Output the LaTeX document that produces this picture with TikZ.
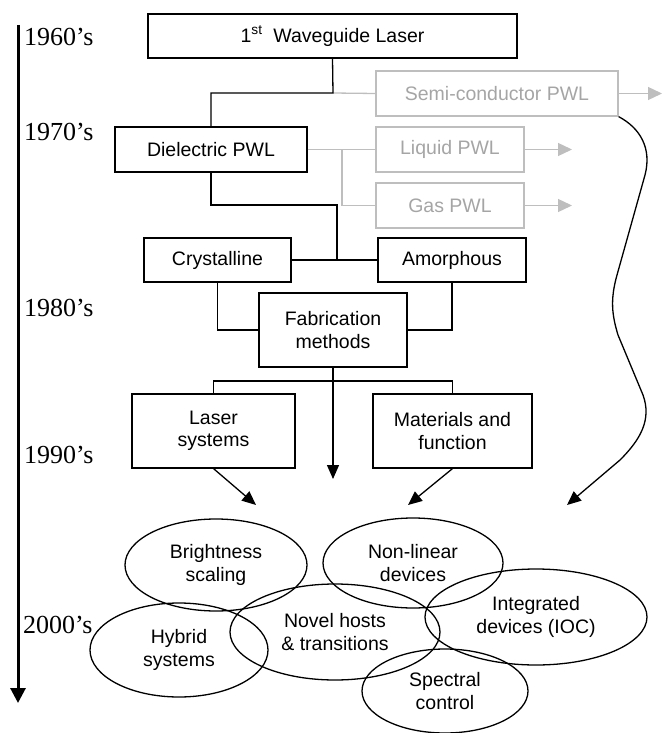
\documentclass[tikz,border=0pt]{standalone}
\usepackage{fontspec}
\setmainfont{Liberation Serif}
\newfontfamily\arialf{Liberation Sans}
\usetikzlibrary{arrows.meta,shapes.geometric}
\definecolor{lightg}{RGB}{190,190,190}
\definecolor{textg}{RGB}{165,165,165}
\begin{document}
\begin{tikzpicture}[x=1pt,y=-1pt,
  box/.style={draw,line width=1.2pt,inner sep=0pt,align=center,font=\arialf\fontsize{19.5}{22.5}\selectfont},
  gbox/.style={box,draw=lightg,text=textg},
  oval/.style={draw,ellipse,line width=1.3pt,inner sep=0pt,align=center,font=\arialf\fontsize{19.5}{22.5}\selectfont},
  conn/.style={line width=1.3pt},
  gconn/.style={line width=1.3pt,draw=lightg},
  garr/.style={gconn,-{Triangle[length=14pt,width=13pt]}},
  barr/.style={conn,-{Triangle[length=14pt,width=12pt]}},
  decade/.style={anchor=west,inner sep=0pt,font=\fontsize{26}{28}\selectfont}
]
\useasboundingbox (0,0) rectangle (663,733);
% timeline
\coordinate (ax1) at (18,25);
\coordinate (ax2) at (18,703);
\draw[line width=3pt,-{Triangle[length=15pt,width=15pt]}] (ax1) -- (ax2);
\node[decade] (d60) at (24,37) {1960’s};
\node[decade] (d70) at (24,132) {1970’s};
\node[decade] (d80) at (24,308) {1980’s};
\node[decade] (d90) at (24,455) {1990’s};
\node[decade] (d00) at (23,625) {2000’s};
% boxes
\node[box,minimum width=369pt,minimum height=44pt] (w1) at (332.5,36) {1\textsuperscript{st}\; Waveguide Laser};
\node[gbox,minimum width=242pt,minimum height=45pt] (semi) at (497,93.5) {Semi-conductor PWL};
\node[box,minimum width=192pt,minimum height=45pt] (diel) at (211,149.5) {Dielectric PWL};
\node[gbox,minimum width=148pt,minimum height=45pt] (liq) at (450,149.5) {Liquid PWL};
\node[gbox,minimum width=148pt,minimum height=45pt] (gas) at (450,205.5) {Gas PWL};
\node[box,minimum width=147pt,minimum height=44pt] (cry) at (217.5,260) {Crystalline};
\node[box,minimum width=148pt,minimum height=44pt] (amo) at (452,260) {Amorphous};
\node[box,minimum width=148pt,minimum height=74pt] (fab) at (333,330) {Fabrication\\methods};
\node[box,minimum width=163pt,minimum height=74pt] (las) at (213.5,431) {Laser\\systems};
\node[box,minimum width=159pt,minimum height=74pt] (mat) at (452.5,431) {Materials and\\function};
% ellipses
\node[oval,minimum width=182pt,minimum height=92pt] (bri) at (216,565) {Brightness\\scaling};
\node[oval,minimum width=180pt,minimum height=90pt] (non) at (413,563) {Non-linear\\devices};
\node[oval,minimum width=222pt,minimum height=96pt] (int) at (536,617) {Integrated\\devices (IOC)};
\node[oval,minimum width=178pt,minimum height=94pt] (hyb) at (179,650) {Hybrid\\systems};
\node[oval,minimum width=210pt,minimum height=96pt] (nov) at (335,632) {Novel hosts\\\& transitions};
\node[oval,minimum width=166pt,minimum height=84pt] (spe) at (445,691) {Spectral\\control};
% connectors top
\coordinate (j1) at (333,93);
\draw[gconn] (j1) -- (semi.west);
\draw[conn] (w1.south) -- (j1) -| (diel.north);
\coordinate (se) at (662,93.5);
\draw[garr] (semi.east) -- (se);
\coordinate (j2) at (342,149.5);
\draw[gconn] (diel.east) -- (liq.west);
\draw[gconn] (j2) |- (gas.west);
\coordinate (le) at (572,149.5);
\coordinate (ge) at (572,205.5);
\draw[garr] (liq.east) -- (le);
\draw[garr] (gas.east) -- (ge);
% dielectric to crystalline/amorphous
\coordinate (j3) at (337,205);
\coordinate (j4) at (337,260);
\draw[conn] (diel.south) |- (j3) -- (j4);
\draw[conn] (cry.east) -- (amo.west);
\draw[conn] (cry.south) |- (fab.west);
\draw[conn] (amo.south) |- (fab.east);
% fabrication
\coordinate (fa) at (333,479);
\draw[barr] (fab.south) -- (fa);
\coordinate (j5) at (333,381);
\draw[conn] (las.north) |- (j5) -| (mat.north);
\coordinate (la) at (256,505);
\coordinate (ma) at (408,505);
\draw[barr] (las.south) -- (la);
\draw[barr] (mat.south) -- (ma);
% wavy arrow
\coordinate (wa) at (567,505);
\draw[barr] (semi.south east) .. controls (640,128) and (652,148) .. (645,175)
  -- (617,275) .. controls (610,300) and (612,315) .. (618,335)
  -- (643,395) .. controls (652,420) and (640,440) .. (620,460)
  -- (wa);
\end{tikzpicture}
\end{document}
